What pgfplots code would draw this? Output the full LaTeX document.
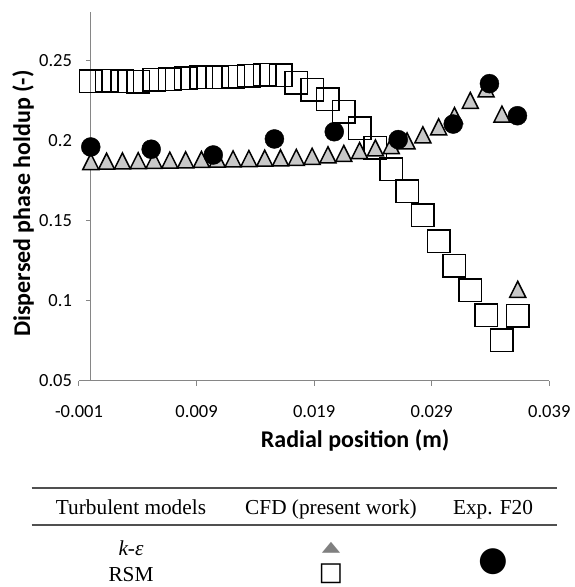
\documentclass[border=0pt]{standalone}
\usepackage{fontspec}
\setmainfont{Carlito}
\newfontfamily\tabfont{Liberation Serif}
\newfontfamily\symfont{DejaVu Sans}
\usepackage{pgfplots}
\usepackage{pgfplotstable}
\pgfplotsset{compat=1.18}
\definecolor{axisgray}{RGB}{134,134,134}
\definecolor{trifill}{RGB}{200,200,200}
\definecolor{rulegray}{RGB}{80,80,80}
\definecolor{keygray}{RGB}{128,128,128}

\pgfdeclareplotmark{xltri}{%
  \pgfpathmoveto{\pgfqpoint{0pt}{8pt}}%
  \pgfpathlineto{\pgfqpoint{-8pt}{-8pt}}%
  \pgfpathlineto{\pgfqpoint{8pt}{-8pt}}%
  \pgfpathclose
  \pgfusepathqfillstroke}

\pgfplotstableread{
x        y
0        0.2367
0.001345 0.2371
0.002690 0.2369
0.004035 0.2365
0.005380 0.2376
0.006725 0.2381
0.008070 0.2386
0.009415 0.2392
0.010760 0.2393
0.012105 0.2396
0.013450 0.2402
0.014795 0.2408
0.016140 0.2405
0.017485 0.2358
0.018830 0.2314
0.020175 0.2257
0.021520 0.2179
0.022865 0.2075
0.024210 0.1954
0.025555 0.1819
0.026900 0.1682
0.028245 0.1533
0.029590 0.1371
0.030935 0.1216
0.032280 0.1064
0.033625 0.0909
0.034970 0.0751
0.036315 0.0904
}\rsm

\pgfplotstableread{
x        y
0        0.1867
0.001345 0.1869
0.002690 0.1871
0.004035 0.1873
0.005380 0.1875
0.006725 0.1876
0.008070 0.1878
0.009415 0.1880
0.010760 0.1882
0.012105 0.1884
0.013450 0.1886
0.014795 0.1888
0.016140 0.1890
0.017485 0.1893
0.018830 0.1900
0.020175 0.1909
0.021520 0.1918
0.022865 0.1936
0.024210 0.1952
0.025555 0.1967
0.026900 0.1996
0.028245 0.2034
0.029590 0.2084
0.030935 0.2154
0.032280 0.2248
0.033625 0.2320
0.034970 0.2163
0.036315 0.1070
}\ke

\pgfplotstableread{
x        y
0        0.1958
0.00514  0.1944
0.01042  0.1908
0.01562  0.2008
0.02071  0.2053
0.02615  0.2004
0.03083  0.2101
0.03391  0.2353
0.03629  0.2153
}\expt

\begin{document}
\begin{tikzpicture}
\begin{axis}[
  scale only axis, width=470.3pt, height=368.7pt,
  xmin=-0.001, xmax=0.039, ymin=0.05, ymax=0.28,
  clip=false,
  axis x line*=bottom, axis y line*=middle,
  axis line style={axisgray, line width=1pt},
  hide obscured x ticks=false, hide obscured y ticks=false,
  scaled x ticks=false, scaled y ticks=false,
  xtick={-0.001,0.009,0.019,0.029,0.039},
  xticklabels={-0.001,0.009,0.019,0.029,0.039},
  ytick={0.05,0.1,0.15,0.2,0.25},
  yticklabels={0.05,0.1,0.15,0.2,0.25},
  minor tick num=0,
  tick align=outside, major tick length=5pt,
  major tick style={axisgray, line width=1pt},
  ticklabel style={font=\fontsize{18.5}{22}\selectfont, text=black},
  xticklabel style={yshift=-16pt},
  yticklabel style={xshift=-10.3pt},
  xlabel={Radial position (m)},
  ylabel={Dispersed phase holdup (-)},
  every axis x label/.style={at={(axis description cs:0.587,-0.1825)}, anchor=base, font=\bfseries\fontsize{24}{28}\selectfont},
  every axis y label/.style={at={(axis description cs:-0.119,0.4806)}, rotate=90, anchor=center, font=\bfseries\fontsize{24}{28}\selectfont},
]
\addplot[only marks, black, mark=square, mark size=11.25pt, mark options={line width=1.5pt, draw=black}] table[x=x,y=y] {\rsm};
\addplot[only marks, black, mark=xltri, mark options={line width=1.5pt, draw=black, fill=trifill}] table[x=x,y=y] {\ke};
\addplot[only marks, black, mark=*, mark size=9.5pt, mark options={draw=black, fill=black}] table[x=x,y=y] {\expt};
\end{axis}

% table below the chart
\draw[rulegray, line width=1.5pt] (-47.3pt,-107.3pt) -- (478pt,-107.3pt);
\draw[rulegray, line width=1.5pt] (-47.3pt,-144.3pt) -- (478pt,-144.3pt);
\begin{scope}[every node/.style={anchor=base, inner sep=0pt, font=\tabfont\fontsize{21.3}{25}\selectfont}]
\node at (52pt,-133.3pt) {Turbulent models};
\node at (252pt,-133.3pt) {CFD (present work)};
\node at (414pt,-133.3pt) {Exp. F20};
\node at (52pt,-174.3pt) {\itshape k-ε};
\node at (52pt,-200.3pt) {RSM};
\end{scope}
\node[inner sep=0pt, text=keygray, yscale=0.6, font=\symfont\fontsize{24}{24}\selectfont] at (252pt,-167.3pt) {▲};
\node[inner sep=0pt, text=black, font=\symfont\fontsize{26}{26}\selectfont] at (252pt,-193.3pt) {□};
\node[inner sep=0pt, text=black, font=\symfont\fontsize{34}{34}\selectfont] at (414pt,-181.3pt) {●};

\pgfresetboundingbox
\useasboundingbox (-79pt,-206.3pt) rectangle (496pt,380.7pt);
\end{tikzpicture}
\end{document}
